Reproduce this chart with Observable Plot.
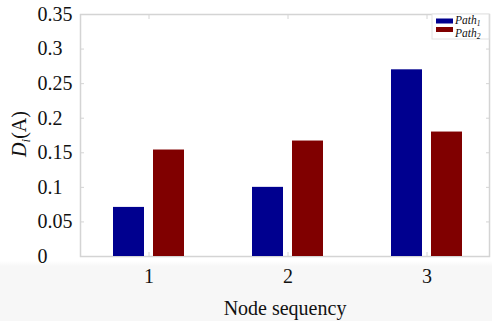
<!DOCTYPE html>
<html>
<head>
<meta charset="utf-8">
<script src="https://cdn.jsdelivr.net/npm/d3@7"></script>
<script src="https://cdn.jsdelivr.net/npm/@observablehq/plot@0.6"></script>
<style>
  html, body { margin: 0; padding: 0; }
  body { background: linear-gradient(to bottom, #ffffff 0px, #ffffff 261px, #f7f7f7 266px, #f7f7f7 321px); }
  #chart svg { display: block; }
  #chart svg text { font-family: 'Liberation Serif', 'Times New Roman', serif !important; }
</style>
</head>
<body>
<div id="chart"></div>
<script>
// ---- data ----
const nodes = [1, 2, 3];
const seriesNames = ["Path1", "Path2"];
const path1 = [0.071, 0.100, 0.270];
const path2 = [0.154, 0.167, 0.180];
const yTicks = [0, 0.05, 0.1, 0.15, 0.2, 0.25, 0.3, 0.35];
const yTickLabels = ["0", "0.05", "0.1", "0.15", "0.2", "0.25", "0.3", "0.35"];
const colors = ["#00008f", "#800000"];

const rows1 = nodes.map((n, i) => ({node: n, path: seriesNames[0], value: path1[i]}));
const rows2 = nodes.map((n, i) => ({node: n, path: seriesNames[1], value: path2[i]}));

const axisColor = "#d4d4d4";

const plot = Plot.plot({
  width: 492,
  height: 321,
  marginLeft: 80,
  marginRight: 3,
  marginTop: 14,
  marginBottom: 65,
  style: {background: "transparent", color: "#111", overflow: "visible"},
  x: {type: "band", domain: nodes, range: [79, 496], padding: 0},
  y: {domain: [0, 0.35]},
  color: {domain: seriesNames, range: colors},
  marks: [
    Plot.frame({stroke: axisColor, strokeWidth: 1.5}),
    Plot.barY(rows1, {x: "node", y: "value", fill: "path", insetLeft: 34, insetRight: 74}),
    Plot.barY(rows2, {x: "node", y: "value", fill: "path", insetLeft: 74, insetRight: 34}),
    // inward ticks
    Plot.axisY({anchor: "left", ticks: yTicks, tickSize: 4, dx: 4, text: null, stroke: axisColor, label: null}),
    Plot.axisY({anchor: "right", ticks: yTicks, tickSize: 4, dx: -4, text: null, stroke: axisColor, label: null}),
    Plot.axisX({anchor: "top", tickSize: 4, dy: 4, text: null, stroke: axisColor, label: null}),
    Plot.axisX({anchor: "bottom", tickSize: 4, dy: -4, text: null, stroke: axisColor, label: null}),
    // tick labels
    Plot.axisY({anchor: "left", ticks: yTicks, tickFormat: (d, i) => yTickLabels[i], tickSize: 0, tickPadding: 0,
      textAnchor: "start", dx: -43, fontSize: 20, label: null, fill: "#111"}),
    Plot.axisX({anchor: "bottom", tickSize: 0, tickPadding: 12, fontSize: 20, fill: "#111",
      label: "Node sequency", labelAnchor: "center", labelArrow: "none", labelOffset: 58})
  ]
});

document.getElementById("chart").appendChild(plot);

const svg = d3.select(plot);
svg.selectAll("[aria-label='x-axis label'] text, [aria-label='x-axis label']").attr("font-size", 20);

// y-axis label D_i(A)
const yl = svg.append("text")
  .attr("transform", "translate(26,134) rotate(-90)")
  .attr("text-anchor", "middle")
  .attr("font-size", 20)
  .attr("fill", "#111");
yl.append("tspan").attr("font-style", "italic").text("D");
yl.append("tspan").attr("font-style", "italic").attr("font-size", 13).attr("dy", 4).text("i");
yl.append("tspan").attr("dy", -4).text("(A)");

// legend
const color = plot.scale("color");
const lg = svg.append("g").attr("text-anchor", "start");
lg.append("rect").attr("x", 432).attr("y", 14).attr("width", 57).attr("height", 25)
  .attr("fill", "#fff").attr("stroke", "#e2e2e2");
seriesNames.forEach((s, i) => {
  lg.append("rect").attr("x", 436).attr("y", 18.5 + i * 8.5).attr("width", 17).attr("height", 5)
    .attr("fill", color.apply(s));
  const t = lg.append("text").attr("x", 455).attr("y", 24 + i * 13)
    .attr("text-anchor", "start")
    .attr("font-style", "italic").attr("font-size", 11.5).attr("fill", "#111");
  t.append("tspan").text("Path");
  t.append("tspan").attr("font-size", 7.5).attr("dy", 1.5).text(String(i + 1));
});
</script>
</body>
</html>
